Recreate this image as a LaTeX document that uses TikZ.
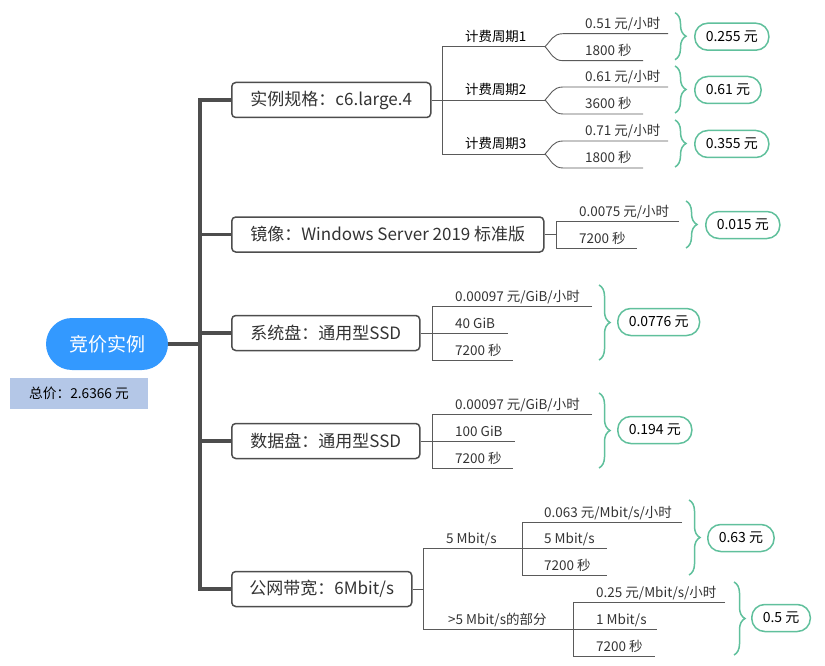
\documentclass[tikz,border=0pt]{standalone}
\usepackage{fontspec}
\setmainfont{Noto Sans CJK SC}
\usetikzlibrary{positioning,decorations.pathreplacing}
\definecolor{rootBlue}{RGB}{51,153,255}
\definecolor{sumBlue}{RGB}{180,199,231}
\definecolor{trunkGray}{RGB}{77,77,77}
\definecolor{lineGray}{RGB}{90,90,90}
\definecolor{textGray}{RGB}{51,51,51}
\definecolor{costGreen}{RGB}{96,192,156}
\tikzset{
  rootnode/.style={fill=rootBlue, text=white, rounded corners=26pt, minimum width=122pt,
    minimum height=52pt, font=\fontsize{19}{21}\selectfont},
  sumnode/.style={fill=sumBlue, text=black, minimum width=138pt, minimum height=31pt,
    font=\fontsize{13.7}{15}\selectfont},
  topic/.style={draw=trunkGray, line width=1.5pt, rounded corners=4pt, fill=white, text=textGray,
    anchor=west, minimum height=35pt, font=\fontsize{17}{19}\selectfont},
  leaf/.style={anchor=base west, inner sep=0pt, text=textGray, font=\fontsize{13.5}{15}\selectfont},
  cyclabel/.style={anchor=base west, inner sep=0pt, text=black, font=\fontsize{13.4}{15}\selectfont},
  pill/.style={draw=costGreen, line width=1.5pt, rounded corners=13pt, fill=white, anchor=west,
    minimum height=27pt, inner xsep=11pt, text=black, font=\fontsize{14}{16}\selectfont},
  trunkline/.style={draw=trunkGray, line width=3.5pt},
  twig/.style={draw=lineGray, line width=0.9pt},
  costbrace/.style={draw=costGreen, line width=1.5pt, decorate, decoration={brace, amplitude=11pt}}
}

\begin{document}
\begin{tikzpicture}[x=1pt,y=-1pt]
    \useasboundingbox (0,0) rectangle (825,666);
    \node[rootnode] (root) at (107,344) {竞价实例};
    \node[sumnode] (total) at (79,393.5) {总价：2.6366 元};
    \node[topic, minimum width=199pt] (spec) at (231,100) {实例规格：c6.large.4};
    \node[topic, minimum width=312pt] (image) at (231,234.5) {镜像：Windows Server 2019 标准版};
    \node[topic, minimum width=188pt] (sys) at (231,333) {系统盘：通用型SSD};
    \node[topic, minimum width=188pt] (data) at (231,441) {数据盘：通用型SSD};
    \node[topic, minimum width=180pt] (band) at (231,589) {公网带宽：6Mbit/s};
    \coordinate (trunk) at (200,344);
    \draw[trunkline] (root.east) -- (trunk);
    \foreach \b in {spec,image,sys,data,band} {
      \draw[trunkline] (trunk) |- (\b.west);
    }
    \coordinate (specfork) at (442,100);
    \draw[twig] (spec.east) -- (specfork);
    \draw[twig] (442,46.7) -- (442,154);
    \foreach \i/\yy/\rate/\dur/\tot in {1/46.7/0.51/1800/0.255,2/100/0.61/3600/0.61,3/154/0.71/1800/0.355} {
      \coordinate (cyc\i) at (442,\yy);
      \coordinate (split\i) at (545,\yy);
      \coordinate (rateend\i) at (668,\yy-13);
      \coordinate (durend\i) at (643,\yy+14);
      \node[cyclabel] (cycname\i) at (465,\yy-5) {计费周期\i};
      \draw[twig] (cyc\i) -- (split\i);
      \draw[twig] (split\i) .. controls (551,\yy-6) and (553,\yy-13) .. (563,\yy-13) -- (rateend\i);
      \draw[twig] (split\i) .. controls (551,\yy+6) and (553,\yy+14) .. (563,\yy+14) -- (durend\i);
      \node[leaf] (rate\i) at (585,\yy-18) {\rate{} 元/小时};
      \node[leaf] (dur\i) at (585,\yy+9) {\dur{} 秒};
      \draw[costbrace] (675,\yy-34) -- (675,\yy+13);
      \node[pill] (cost\i) at (694,\yy-10) {\tot{} 元};
    }
    \coordinate (imagefork) at (556,234.5);
    \coordinate (imgrateend) at (679,221.3);
    \coordinate (imgdurend) at (637,248.3);
    \draw[twig] (image.east) -- (imagefork);
    \draw[twig] (imgrateend) -| (556,248.3) -- (imgdurend);
    \node[leaf] (imgrate) at (579,216.3) {0.0075 元/小时};
    \node[leaf] (imgdur) at (579,243.3) {7200 秒};
    \draw[costbrace] (686,201) -- (686,248);
    \node[pill] (imgcost) at (705,225) {0.015 元};
    \foreach \d/\yy/\size/\tot/\sizeend in {sys/333/40 GiB/0.0776/508,data/441/100 GiB/0.194/515} {
      \coordinate (\d sizeend) at (\sizeend,\yy);
      \coordinate (\d rateend) at (592,\yy-27);
      \coordinate (\d durend) at (513,\yy+27);
      \draw[twig] (\d.east) -- (\d sizeend);
      \draw[twig] (\d rateend) -| (432,\yy+27) -- (\d durend);
      \node[leaf] (\d rate) at (455,\yy-32) {0.00097 元/GiB/小时};
      \node[leaf] (\d size) at (455,\yy-5) {\size};
      \node[leaf] (\d dur) at (455,\yy+22) {7200 秒};
      \draw[costbrace] (599,\yy-48) -- (599,\yy+27);
      \node[pill] (\d cost) at (617,\yy-11) {\tot{} 元};
    }
    \coordinate (bandfork) at (423,589);
    \coordinate (lowfork) at (522,548);
    \coordinate (highfork) at (573,629);
    \draw[twig] (band.east) -- (bandfork);
    \draw[twig] (lowfork) -| (423,629) -- (highfork);
    \node[leaf] (lowname) at (446,543) {5 Mbit/s};
    \node[leaf] (highname) at (448,624) {>5 Mbit/s的部分};
    \coordinate (lowrateend) at (682,522);
    \coordinate (lowsizeend) at (607,548);
    \coordinate (lowdurend) at (607,575);
    \draw[twig] (lowrateend) -| (522,575) -- (lowdurend);
    \draw[twig] (lowfork) -- (lowsizeend);
    \node[leaf] (lowrate) at (544,517) {0.063 元/Mbit/s/小时};
    \node[leaf] (lowsize) at (544,543) {5 Mbit/s};
    \node[leaf] (lowdur) at (544,570) {7200 秒};
    \draw[costbrace] (689,500) -- (689,575);
    \node[pill] (lowcost) at (707,538) {0.63 元};
    \coordinate (highrateend) at (725,602);
    \coordinate (highsizeend) at (657,629);
    \coordinate (highdurend) at (655,656);
    \draw[twig] (highrateend) -| (573,656) -- (highdurend);
    \draw[twig] (highfork) -- (highsizeend);
    \node[leaf] (highrate) at (596,597) {0.25 元/Mbit/s/小时};
    \node[leaf] (highsize) at (596,624) {1 Mbit/s};
    \node[leaf] (highdur) at (596,651) {7200 秒};
    \draw[costbrace] (734,582) -- (734,655);
    \node[pill] (highcost) at (751,618) {0.5 元};
\end{tikzpicture}
\end{document}
